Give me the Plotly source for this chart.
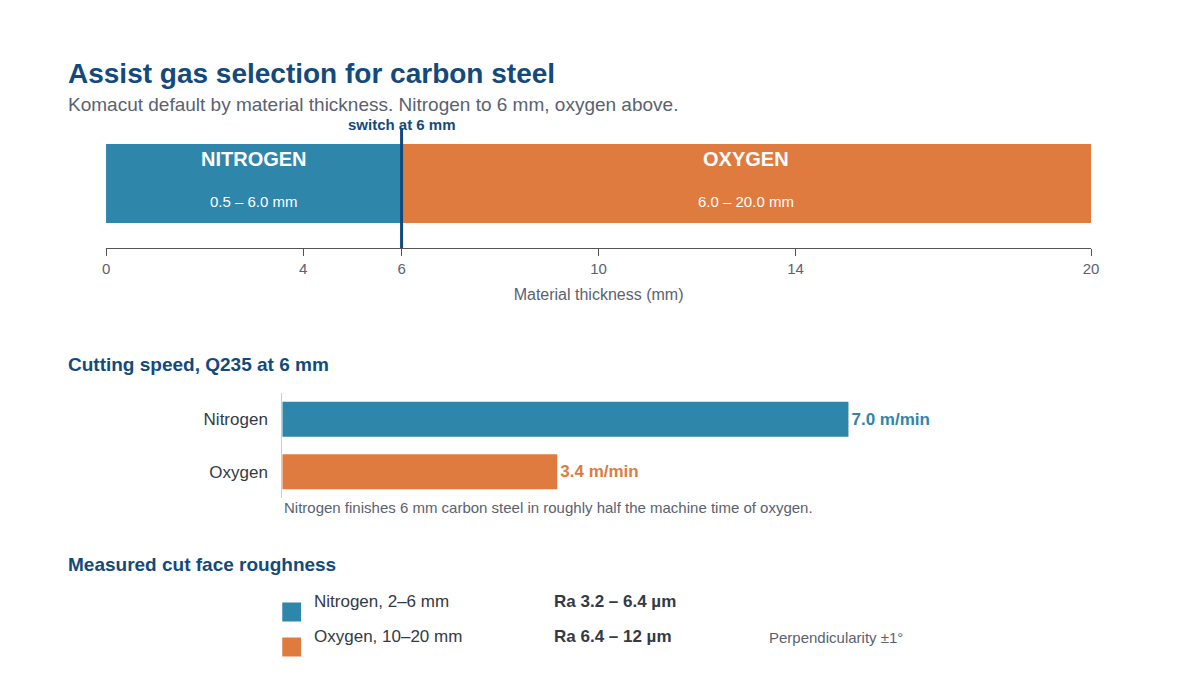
import plotly.graph_objects as go

W, H = 1200, 682
BLUE = "#2E86AB"
ORANGE = "#E07B3F"
NAVY = "#134A7C"
GREY = "#5A6270"
DARK = "#333A44"

gases = ["NITROGEN", "OXYGEN"]
bar_start = [0, 6]
bar_end = [6, 20]
range_labels = ["0.5 – 6.0 mm", "6.0 – 20.0 mm"]
thick_ticks = [0, 4, 6, 10, 14, 20]
switch_mm = 6

speed_cats = ["Nitrogen", "Oxygen"]
speed_vals = [7.0, 3.4]
speed_labels = ["7.0 m/min", "3.4 m/min"]

rough_names = ["Nitrogen, 2–6 mm", "Oxygen, 10–20 mm"]
rough_vals = ["Ra 3.2 – 6.4 µm", "Ra 6.4 – 12 µm"]

def px(x): return x / W
def py(y): return 1 - y / H

colors = [BLUE, ORANGE]
FONT = "Liberation Sans, Arial, sans-serif"

fig = go.Figure()
# Top timeline
fig.add_trace(go.Bar(
    orientation="h", y=[0.5375, 0.5375], x=[e - s for s, e in zip(bar_start, bar_end)],
    base=bar_start, width=0.658, marker=dict(color=colors, line=dict(width=0)),
    xaxis="x", yaxis="y", hoverinfo="skip", showlegend=False))
# Speed bars
fig.add_trace(go.Bar(
    orientation="h", y=speed_cats, x=speed_vals, width=0.67,
    marker=dict(color=colors, line=dict(width=0)),
    text=speed_labels, textposition="outside", cliponaxis=False,
    textfont=dict(color=colors, size=17, family=FONT, weight="bold"),
    xaxis="x2", yaxis="y2", hoverinfo="skip", showlegend=False))

ann = []
for g, lab, s, e in zip(gases, range_labels, bar_start, bar_end):
    m = (s + e) / 2
    ann.append(dict(x=m, y=0.74, xref="x", yref="y", text=f"<b>{g}</b>", showarrow=False,
                    font=dict(size=20, color="white")))
    ann.append(dict(x=m, y=0.39, xref="x", yref="y", text=lab, showarrow=False,
                    font=dict(size=15, color="white")))
ann.append(dict(x=switch_mm, y=py(106), xref="x", yref="paper", text="<b>switch at 6 mm</b>",
                showarrow=False, font=dict(size=15, color=NAVY)))

ann += [
    dict(x=px(55), y=py(48), xref="paper", yref="paper", xanchor="left", text="<b>Assist gas selection for carbon steel</b>",
         showarrow=False, font=dict(size=28, color=NAVY)),
    dict(x=px(55), y=py(84), xref="paper", yref="paper", xanchor="left",
         text="Komacut default by material thickness. Nitrogen to 6 mm, oxygen above.",
         showarrow=False, font=dict(size=19, color=GREY)),
    dict(x=px(55), y=py(356), xref="paper", yref="paper", xanchor="left", text="<b>Cutting speed, Q235 at 6 mm</b>",
         showarrow=False, font=dict(size=19, color=NAVY)),
    dict(x=px(273), y=py(510), xref="paper", yref="paper", xanchor="left",
         text="Nitrogen finishes 6 mm carbon steel in roughly half the machine time of oxygen.",
         showarrow=False, font=dict(size=15, color=GREY)),
    dict(x=px(55), y=py(569), xref="paper", yref="paper", xanchor="left", text="<b>Measured cut face roughness</b>",
         showarrow=False, font=dict(size=19, color=NAVY)),
    dict(x=px(763), y=py(640), xref="paper", yref="paper", xanchor="left", text="Perpendicularity ±1°",
         showarrow=False, font=dict(size=15, color=GREY)),
]
shapes = [dict(type="line", xref="x", yref="y domain", x0=switch_mm, x1=switch_mm, y0=0, y1=1,
               line=dict(color=NAVY, width=3))]
for i, (n, v) in enumerate(zip(rough_names, rough_vals)):
    yc = 604 + 35 * i
    shapes.append(dict(type="rect", xref="paper", yref="paper", x0=px(273), x1=px(292),
                       y0=py(yc + 9.5), y1=py(yc - 9.5), fillcolor=colors[i], line=dict(width=0)))
    ann.append(dict(x=px(303), y=py(yc + 1), xref="paper", yref="paper", xanchor="left", text=n,
                    showarrow=False, font=dict(size=17, color=DARK)))
    ann.append(dict(x=px(545), y=py(yc + 1), xref="paper", yref="paper", xanchor="left", text=f"<b>{v}</b>",
                    showarrow=False, font=dict(size=17, color=DARK)))

fig.update_layout(
    width=W, height=H, margin=dict(l=0, r=0, t=0, b=0),
    paper_bgcolor="white", plot_bgcolor="white",
    font=dict(family=FONT, color=GREY), barmode="overlay",
    xaxis=dict(domain=[px(95), px(1090)], range=[0, 20], anchor="y",
               tickvals=thick_ticks, ticks="outside", ticklen=7, tickcolor="#555",
               showline=True, linecolor="#555", linewidth=1, showgrid=False, zeroline=False,
               tickfont=dict(size=15, color=GREY),
               title=dict(text="Material thickness (mm)", font=dict(size=16, color=GREY), standoff=12)),
    yaxis=dict(domain=[py(240), py(120)], range=[0, 1], visible=False, fixedrange=True),
    xaxis2=dict(domain=[px(273), px(1090)], range=[0, 10], anchor="y2", visible=False),
    yaxis2=dict(domain=[py(490), py(385)], autorange="reversed", anchor="x2",
                showline=True, linecolor="#ccc", linewidth=1, ticks="", ticklabelstandoff=10,
                tickfont=dict(size=17, color=DARK), showgrid=False),
    annotations=ann, shapes=shapes,
)
fig.write_html("out.html")
